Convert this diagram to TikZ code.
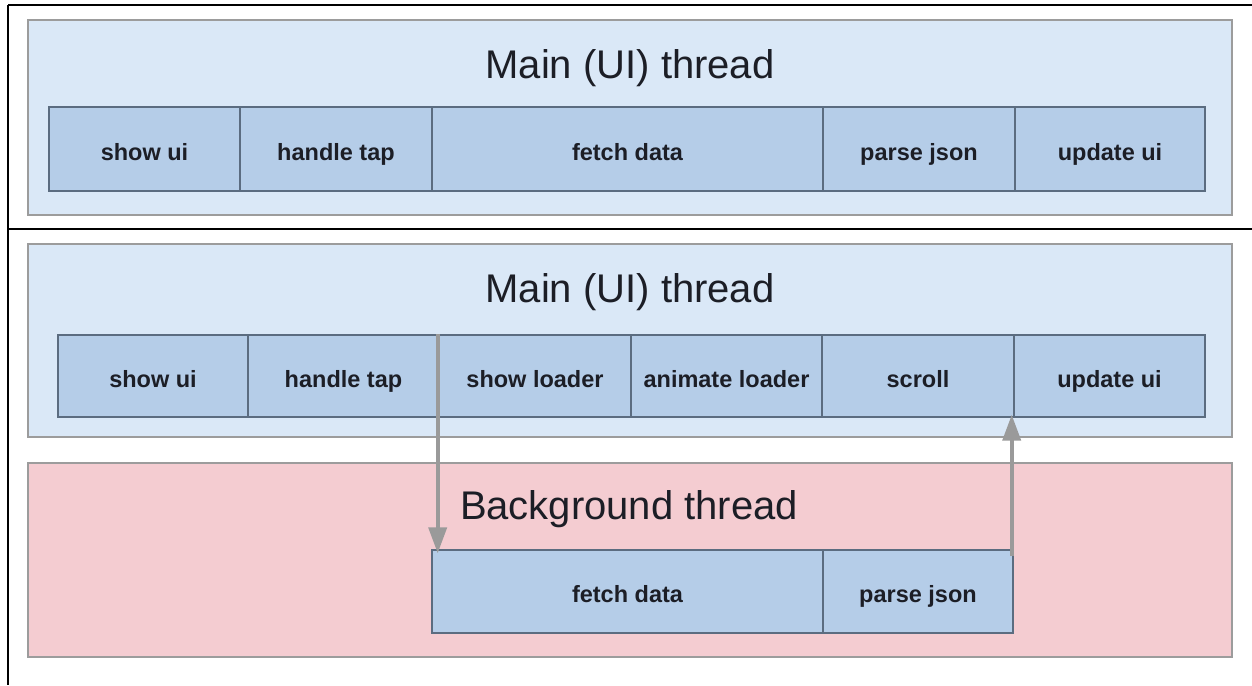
\documentclass[tikz,border=0pt]{standalone}
\usepackage{fontspec}
\setmainfont{Liberation Sans}
\usetikzlibrary{arrows.meta}
\definecolor{panelblue}{HTML}{DAE8F7}
\definecolor{boxblue}{HTML}{B5CDE8}
\definecolor{boxline}{HTML}{5B6C80}
\definecolor{panelpink}{HTML}{F4CCD1}
\definecolor{panelline}{HTML}{9C9C9C}
\definecolor{arrgray}{HTML}{9A9A9A}
\definecolor{txt}{HTML}{1C1E26}
\tikzset{
  panel/.style={draw=panelline, line width=1.2pt, fill=panelblue},
  pinkpanel/.style={draw=panelline, line width=1.2pt, fill=panelpink},
  taskbox/.style={draw=boxline, line width=1.4pt, fill=boxblue, inner sep=0pt,
    text height=22pt, text depth=0pt,
    font=\fontsize{23.5}{26}\selectfont\bfseries, text=txt},
  title/.style={font=\fontsize{40}{44}\selectfont, text=txt, inner sep=0pt, anchor=base},
  flow/.style={draw=arrgray, line width=4pt, -{Triangle[length=26pt,width=18pt]}},
  frame/.style={draw=black, line width=2pt}
}
\begin{document}
\begin{tikzpicture}[x=1pt,y=-1pt]
\useasboundingbox (0,0) rectangle (1252,685);
\fill[white] (0,0) rectangle (1252,685);
% frame lines
\draw[frame] (8,5) -- (1252,5);
\draw[frame] (8,229) -- (1252,229);
\draw[frame] (8,5) -- (8,685);

% top panel
\draw[panel] (28,20) rectangle (1232,215);
\node[title] (t1) at (630,78) {Main (UI) thread};
\node[taskbox, minimum width=191pt, minimum height=84pt] (a1) at (144.5,149) {show ui};
\node[taskbox, minimum width=192pt, minimum height=84pt] (a2) at (336,149) {handle tap};
\node[taskbox, minimum width=391pt, minimum height=84pt] (a3) at (627.5,149) {fetch data};
\node[taskbox, minimum width=192pt, minimum height=84pt] (a4) at (919,149) {parse json};
\node[taskbox, minimum width=190pt, minimum height=84pt] (a5) at (1110,149) {update ui};

% second main panel
\draw[panel] (28,244) rectangle (1232,437);
\node[title] (t2) at (630,302) {Main (UI) thread};
\node[taskbox, minimum width=190pt, minimum height=82pt] (b1) at (153,376) {show ui};
\node[taskbox, minimum width=191pt, minimum height=82pt] (b2) at (343.5,376) {handle tap};
\node[taskbox, minimum width=192pt, minimum height=82pt] (b3) at (535,376) {show loader};
\node[taskbox, minimum width=191pt, minimum height=82pt] (b4) at (726.5,376) {animate loader};
\node[taskbox, minimum width=192pt, minimum height=82pt] (b5) at (918,376) {scroll};
\node[taskbox, minimum width=191pt, minimum height=82pt] (b6) at (1109.5,376) {update ui};

% background panel
\draw[pinkpanel] (28,463) rectangle (1232,657);
\node[title] (t3) at (629,519) {Background thread};
\node[taskbox, minimum width=391pt, minimum height=83pt] (c1) at (627.5,591.5) {fetch data};
\node[taskbox, minimum width=190pt, minimum height=83pt] (c2) at (918,591.5) {parse json};

% arrows
\coordinate (s1) at ([xshift=-2pt]b2.north east);
\coordinate (e1) at ([yshift=-4pt]s1 |- c1.north);
\draw[flow] (s1) -- (e1);
\coordinate (s2) at ([xshift=-2pt,yshift=-7pt]c2.north east);
\coordinate (e2) at ([yshift=3pt]s2 |- b6.south);
\draw[flow] (s2) -- (e2);
\end{tikzpicture}
\end{document}
